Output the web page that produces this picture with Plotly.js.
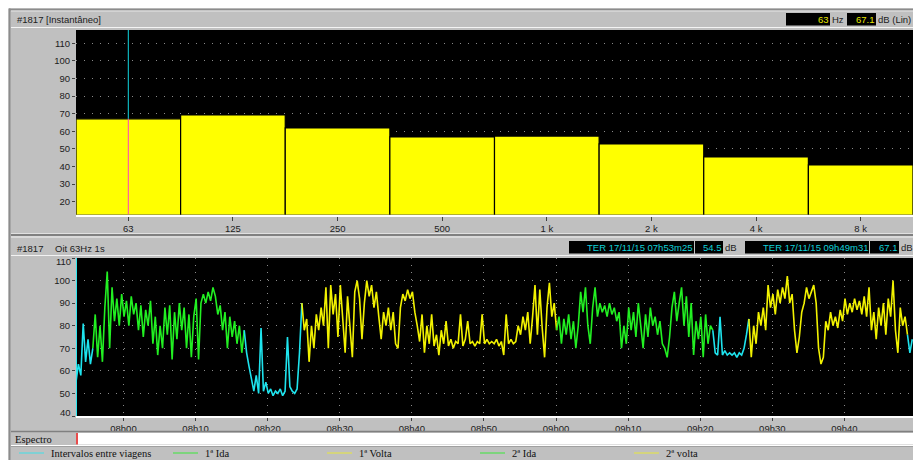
<!DOCTYPE html>
<html>
<head>
<meta charset="utf-8">
<script src="https://cdn.plot.ly/plotly-3.0.1.min.js"></script>
<style>
html,body{margin:0;padding:0;background:#fff;}
#chart{width:913px;height:460px;}
</style>
</head>
<body>
<div id="chart"></div>
<script>
// ---------- DATA ----------
// Spectrum (instantaneous, octave bands)
const bands = ['63', '125', '250', '500', '1 k', '2 k', '4 k', '8 k'];
const levels = [67.1, 69.3, 61.9, 56.8, 57.3, 52.8, 45.4, 40.9];
const spectrumTicks = [20, 30, 40, 50, 60, 70, 80, 90, 100, 110];

// Time history (Oit 63Hz), read every 20 s
const SERIES_START = '2015-11-17 07:53:25';
const SERIES_END = '2015-11-17 09:49:31';
const SAMPLE_STEP_S = 20;
const historyTicks = [40, 50, 60, 70, 80, 90, 100, 110];

const intervalo1 = [55, 63, 58, 81, 64, 74, 63, 70];
const ida1 = [70, 85, 66, 80, 64, 88, 104, 70, 97, 82, 92, 80, 94, 84, 91, 80, 93, 85, 90, 78,
  89, 75, 87, 80, 91, 72, 84, 67, 80, 70, 88, 76, 89, 65, 86, 74, 90, 78, 88, 70,
  85, 66, 84, 92, 65, 90, 94, 90, 95, 91, 97, 93, 85, 89, 78, 86, 70, 84, 75, 82,
  72, 80, 68, 78];
const intervalo2 = [78, 68, 62, 56, 51, 58, 50, 79, 51, 55, 50, 52, 49, 51, 50, 52, 49, 51, 75, 53,
  51, 50, 52, 68, 90];
const volta1 = [90, 78, 83, 64, 80, 70, 85, 78, 88, 80, 97, 70, 98, 85, 94, 75, 98, 82, 68, 93,
  80, 66, 95, 100, 92, 74, 90, 100, 93, 98, 88, 95, 84, 74, 86, 80, 88, 78, 86, 72,
  70, 88, 94, 91, 96, 92, 95, 86, 80, 73, 85, 68, 80, 72, 85, 71, 76, 67, 78, 72,
  82, 71, 74, 70, 73, 72, 85, 71, 74, 82, 72, 73, 71, 73, 72, 85, 72, 74, 72, 73,
  72, 74, 71, 73, 67, 85, 72, 74, 72, 73, 80, 76, 84, 78, 86, 72, 84, 98, 76, 96,
  79, 66, 88, 99, 84, 90, 78];
const ida2 = [78, 84, 72, 83, 76, 85, 74, 82, 70, 80, 95, 86, 97, 80, 72, 88, 97, 84, 90, 86,
  89, 84, 90, 85, 88, 82, 86, 70, 80, 72, 88, 78, 86, 75, 90, 80, 70, 85, 75, 88,
  80, 84, 76, 82, 72, 70, 66, 75, 88, 95, 82, 90, 97, 80, 93, 75, 90, 67, 82, 74,
  84, 66, 85, 72, 80, 78];
const intervalo3 = [78, 68, 67, 84, 67, 69, 67, 68, 67, 68, 66, 68, 67, 70, 76, 83];
const volta2 = [83, 66, 80, 72, 86, 80, 88, 78, 98, 88, 94, 85, 96, 90, 97, 92, 102, 90, 94, 78,
  68, 75, 86, 90, 97, 92, 95, 98, 90, 70, 63, 66, 82, 78, 86, 80, 84, 79, 87, 82,
  92, 85, 90, 86, 92, 87, 91, 85, 93, 84, 97, 78, 86, 74, 88, 80, 90, 76, 92, 84,
  100, 78, 68, 88, 80, 84, 76];
const intervalo4 = [76, 68, 74];

// segment first-sample indices
const segStartIdx = [0, 7, 70, 94, 200, 265, 280, 346];
const segValues = [intervalo1, ida1, intervalo2, volta1, ida2, intervalo3, volta2, intervalo4];
const segNames = ['Intervalos entre viagens', '1ª Ida', 'Intervalos entre viagens', '1ª Volta',
  '2ª Ida', 'Intervalos entre viagens', '2ª volta', 'Intervalos entre viagens'];

const legendNames = ['Intervalos entre viagens', '1ª Ida', '1ª Volta', '2ª Ida', '2ª volta'];

// ---------- STYLE ----------
const W = 913, H = 460;
const colorOf = {
  'Intervalos entre viagens': '#1ee4ee',
  '1ª Ida': '#22f022',
  '1ª Volta': '#f2f200',
  '2ª Ida': '#22f022',
  '2ª volta': '#f2f200'
};
const legendColor = {
  'Intervalos entre viagens': '#3ee0e8',
  '1ª Ida': '#3ae83a',
  '1ª Volta': '#e8e83a',
  '2ª Ida': '#3ae83a',
  '2ª volta': '#e8e83a'
};
const UI = 'Liberation Sans, Arial, sans-serif';
const SERIF = 'Liberation Serif, Times New Roman, serif';
const px = x => x / W;
const py = y => 1 - y / H;

// ---------- helpers ----------
function timeAt(i) {
  const t0 = Date.parse(SERIES_START.replace(' ', 'T') + 'Z');
  return new Date(t0 + i * SAMPLE_STEP_S * 1000).toISOString().replace('T', ' ').slice(0, 19);
}

const topRange = [12.7, 117.6];

const traces = [];
traces.push({
  type: 'bar', x: bands, y: levels, xaxis: 'x', yaxis: 'y',
  width: 1,
  marker: {color: '#ffff00', line: {color: '#000000', width: 1.2}},
  hoverinfo: 'skip', showlegend: false
});

segValues.forEach((vals, k) => {
  traces.push({
    type: 'scatter', mode: 'lines', xaxis: 'x2', yaxis: 'y2',
    name: segNames[k],
    x: vals.map((v, j) => timeAt(segStartIdx[k] + j)),
    y: vals,
    line: {color: colorOf[segNames[k]], width: 1.6},
    hoverinfo: 'skip', showlegend: false
  });
});

const shapes = [];
const annotations = [];
function rect(x0, y0, x1, y1, fill, layer) {
  shapes.push({type: 'rect', xref: 'paper', yref: 'paper', x0: px(x0), x1: px(x1), y0: py(y1), y1: py(y0),
    fillcolor: fill, line: {width: 0}, layer: layer || 'below'});
}
function hline(x0, x1, y, color, w) {
  shapes.push({type: 'line', xref: 'paper', yref: 'paper', x0: px(x0), x1: px(x1), y0: py(y), y1: py(y),
    line: {color: color, width: w || 1}, layer: 'above'});
}
function vline(x, y0, y1, color, w) {
  shapes.push({type: 'line', xref: 'paper', yref: 'paper', x0: px(x), x1: px(x), y0: py(y0), y1: py(y1),
    line: {color: color, width: w || 1}, layer: 'above'});
}
function text(t, x, y, anchor, color, size, family) {
  annotations.push({text: t, xref: 'paper', yref: 'paper', x: px(x), y: py(y), xanchor: anchor, yanchor: 'middle',
    showarrow: false, font: {family: family || UI, size: size || 9.5, color: color || '#202020'}, borderpad: 0});
}

// frame
rect(0, 0, W, 8.5, '#ffffff');
rect(0, 0, 8.5, H, '#ffffff');
vline(9.5, 8.5, H, '#8c8c8c', 2);
hline(9, W, 9.5, '#8c8c8c', 2);
hline(11, W, 11, '#e6e6e6', 1);
hline(11, W, 27.5, '#f4f4f4', 1);
// separator between panels
hline(11, W, 233.5, '#e0e0e0', 1);
hline(11, W, 235, '#808080', 2);
hline(11, W, 237, '#f2f2f2', 1);
hline(11, W, 255.5, '#f2f2f2', 1);
// bottom rows
hline(11, W, 431.5, '#808080', 1.5);
rect(76, 433, W, 444.5, '#ffffff', 'above');
vline(77, 433, 444.5, '#e01010', 1.5);
hline(11, W, 445.5, '#ffffff', 1);
hline(11, W, 446.5, '#a0a0a0', 1);

// top header
text('#1817 [Instantâneo]', 16, 19.5, 'left');
rect(786, 13, 830, 25.5, '#000000', 'above');
rect(847, 13, 876, 25.5, '#000000', 'above');
text(bands[0], 830, 19.5, 'right', '#e8e800');
text('Hz', 830.5, 19.5, 'left', '#202020');
text(levels[0].toFixed(1), 876, 19.5, 'right', '#e8e800');
text('dB (Lin)', 876.5, 19.5, 'left', '#202020');

// bottom header
text('#1817', 16, 248, 'left');
text('Oit 63Hz 1s', 54, 248, 'left');
rect(569, 241, 694, 253.5, '#000000', 'above');
rect(695, 241, 723, 253.5, '#000000', 'above');
rect(745, 241, 869, 253.5, '#000000', 'above');
rect(870, 241, 899, 253.5, '#000000', 'above');
text('TER 17/11/15 07h53m25', 693, 247.5, 'right', '#10d0d8');
text('54.5', 723, 247.5, 'right', '#10d0d8');
text('dB', 723.5, 247.5, 'left', '#202020');
text('TER 17/11/15 09h49m31', 869, 247.5, 'right', '#10d0d8');
text('67.1', 899, 247.5, 'right', '#10d0d8');
text('dB', 899.5, 247.5, 'left', '#202020');

// edge tick labels of lower chart
text(String(historyTicks[historyTicks.length - 1]), 72, 261.5, 'right');
text(String(historyTicks[0]), 72, 412, 'right');

// Espectro row and legend
text('Espectro', 14, 439, 'left', '#101010', 10.5, SERIF);
const legX = [19, 173, 327, 480, 634];
legendNames.forEach((n, k) => {
  hline(legX[k], legX[k] + 25, 453, legendColor[n], 1);
  text(n, legX[k] + 30.5, 453, 'left', '#101010', 10.5, SERIF);
});

// cursors
const cursorIdx = 0;
shapes.push({type: 'line', xref: 'x', yref: 'y', x0: cursorIdx, x1: cursorIdx, y0: levels[cursorIdx], y1: topRange[1],
  line: {color: '#10d8e0', width: 1}, layer: 'above'});
shapes.push({type: 'line', xref: 'x', yref: 'y', x0: cursorIdx, x1: cursorIdx, y0: topRange[0], y1: levels[cursorIdx],
  line: {color: '#ff40c0', width: 1}, layer: 'above'});
shapes.push({type: 'line', xref: 'x2', yref: 'y2 domain', x0: SERIES_START, x1: SERIES_START, y0: 0, y1: 1,
  line: {color: '#30e8f0', width: 2}, layer: 'above'});

const tickFont = {family: UI, size: 9.5, color: '#202020'};
const layout = {
  width: W, height: H, autosize: false,
  margin: {l: 0, r: 0, t: 0, b: 0, pad: 0},
  paper_bgcolor: '#c0c0c0', plot_bgcolor: '#000000',
  showlegend: false, bargap: 0,
  xaxis: {domain: [px(76), 1], anchor: 'y', type: 'category', range: [-0.5, bands.length - 0.5],
    showgrid: false, zeroline: false, ticks: 'outside', ticklen: 4, tickcolor: '#404040', tickwidth: 1,
    tickfont: tickFont, showline: true, linecolor: '#ffffff', linewidth: 2, fixedrange: true},
  yaxis: {domain: [py(214.5), py(30)], anchor: 'x', range: topRange, tickvals: spectrumTicks,
    showgrid: true, gridcolor: '#8a8a8a', griddash: '1px,7px', gridwidth: 1, zeroline: false,
    ticks: 'outside', ticklen: 3, tickcolor: '#404040', tickfont: tickFont, showline: false, fixedrange: true},
  xaxis2: {domain: [px(76), 1], anchor: 'y2', type: 'date', range: [SERIES_START, SERIES_END],
    tick0: '2015-11-17 08:00:00', dtick: 600000, tickformat: '%Hh%M',
    showgrid: true, gridcolor: '#8a8a8a', griddash: '1px,6px', gridwidth: 1, zeroline: false,
    ticks: 'outside', ticklen: 3, tickcolor: '#404040', tickfont: tickFont,
    showline: true, linecolor: '#ffffff', linewidth: 2, fixedrange: true},
  yaxis2: {domain: [py(416), py(258)], anchor: 'x2', range: [historyTicks[0], historyTicks[historyTicks.length - 1]],
    tickvals: historyTicks,
    ticktext: historyTicks.map((v, k) => (k === 0 || k === historyTicks.length - 1) ? '' : String(v)),
    showgrid: true, gridcolor: '#8a8a8a', griddash: '1px,7px', gridwidth: 1, zeroline: false,
    ticks: 'outside', ticklen: 3, tickcolor: '#404040', tickfont: tickFont, showline: false, fixedrange: true},
  shapes: shapes,
  annotations: annotations
};

Plotly.newPlot('chart', traces, layout, {displayModeBar: false, staticPlot: true});
</script>
</body>
</html>
